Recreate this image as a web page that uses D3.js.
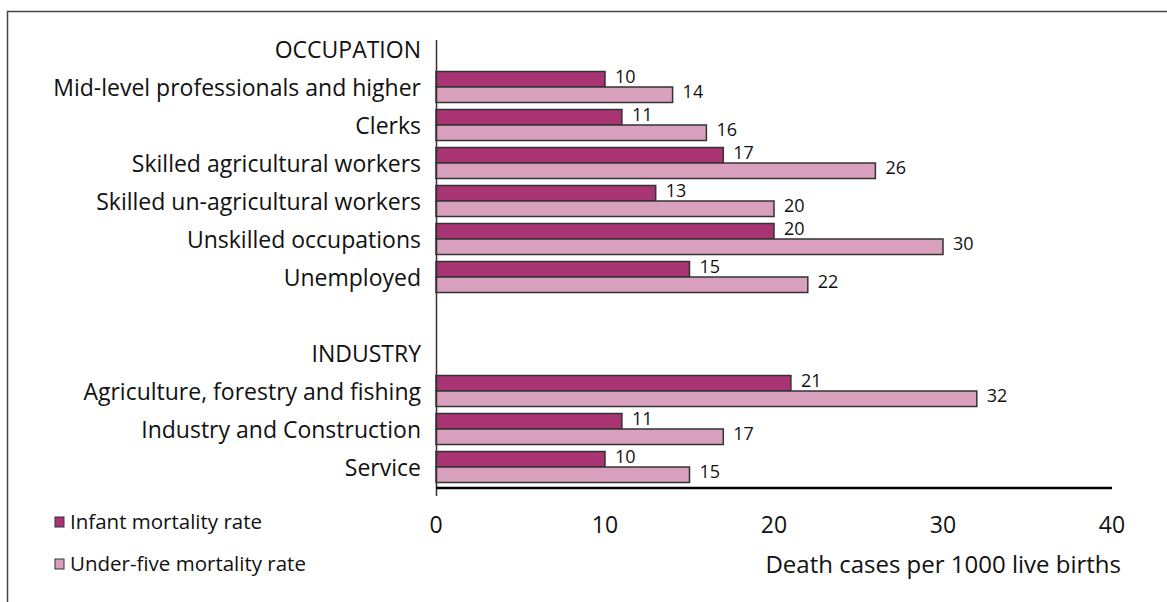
<!DOCTYPE html>
<html>
<head>
<meta charset="utf-8">
<script src="https://cdn.jsdelivr.net/npm/d3@7"></script>
<style>
  body { margin: 0; background: #fff; }
  svg { display: block; font-family: "Open Sans", sans-serif; }
</style>
</head>
<body>
<svg id="chart" width="1167" height="602"></svg>
<script>
// rows of the chart, top to bottom; headers and blank spacer have no values
var rows = [
  "OCCUPATION",
  "Mid-level professionals and higher",
  "Clerks",
  "Skilled agricultural workers",
  "Skilled un-agricultural workers",
  "Unskilled occupations",
  "Unemployed",
  "",
  "INDUSTRY",
  "Agriculture, forestry and fishing",
  "Industry and Construction",
  "Service"
];

var categories = [
  "Mid-level professionals and higher",
  "Clerks",
  "Skilled agricultural workers",
  "Skilled un-agricultural workers",
  "Unskilled occupations",
  "Unemployed",
  "Agriculture, forestry and fishing",
  "Industry and Construction",
  "Service"
];
var infantRate = [10, 11, 17, 13, 20, 15, 21, 11, 10];
var underFiveRate = [14, 16, 26, 20, 30, 22, 32, 17, 15];

var seriesNames = ["Infant mortality rate", "Under-five mortality rate"];
var seriesColors = ["#a83473", "#d8a0bc"];
var xTicks = [0, 10, 20, 30, 40];
var xTitle = "Death cases per 1000 live births";

var svg = d3.select('#chart');

// outer frame (right and bottom edges fall outside the picture)
svg.append('rect')
  .attr('x', 7.5).attr('y', 11.5)
  .attr('width', 1300).attr('height', 700)
  .attr('fill', 'none')
  .attr('stroke', '#444')
  .attr('stroke-width', 1.5);

var x = d3.scaleLinear().domain([0, 40]).range([436, 1112]);
var y = d3.scaleBand().domain(rows).range([30, 486]).paddingInner(0).paddingOuter(0);
var sub = d3.scaleBand().domain([0, 1]).range([0, 31]);
var barOffset = (y.bandwidth() - 31) / 2;

// row labels
svg.append('g').selectAll('text')
  .data(rows.filter(function (d) { return d !== ""; }))
  .join('text')
  .attr('x', 421)
  .attr('y', function (d) { return y(d) + y.bandwidth() / 2 + 1; })
  .attr('dy', '0.35em')
  .attr('text-anchor', 'end')
  .attr('font-size', 23)
  .attr('fill', '#111')
  .text(function (d) { return d; });

// bars
var data = [];
categories.forEach(function (c, i) {
  data.push({ cat: c, s: 0, v: infantRate[i] });
  data.push({ cat: c, s: 1, v: underFiveRate[i] });
});

var bars = svg.append('g');
bars.selectAll('rect')
  .data(data)
  .join('rect')
  .attr('x', x(0))
  .attr('y', function (d) { return y(d.cat) + barOffset + sub(d.s); })
  .attr('width', function (d) { return x(d.v) - x(0); })
  .attr('height', sub.bandwidth())
  .attr('fill', function (d) { return seriesColors[d.s]; })
  .attr('stroke', '#333')
  .attr('stroke-width', 1.5);

// value labels
bars.selectAll('text')
  .data(data)
  .join('text')
  .attr('x', function (d) { return x(d.v) + 10; })
  .attr('y', function (d) { return y(d.cat) + barOffset + sub(d.s) + sub.bandwidth() / 2 - 3; })
  .attr('dy', '0.35em')
  .attr('font-size', 18)
  .attr('fill', '#111')
  .text(function (d) { return d.v; });

// vertical axis line
svg.append('line')
  .attr('x1', 436.5).attr('x2', 436.5)
  .attr('y1', 40).attr('y2', 496)
  .attr('stroke', '#333').attr('stroke-width', 1.5);

// bottom axis line
svg.append('line')
  .attr('x1', x(0)).attr('x2', x(40))
  .attr('y1', 488).attr('y2', 488)
  .attr('stroke', '#000').attr('stroke-width', 2.5);

// tick labels
svg.append('g').selectAll('text')
  .data(xTicks)
  .join('text')
  .attr('x', function (d) { return x(d); })
  .attr('y', 525)
  .attr('dy', '0.35em')
  .attr('text-anchor', 'middle')
  .attr('font-size', 23)
  .attr('fill', '#111')
  .text(function (d) { return d; });

svg.append('text')
  .attr('x', 1121)
  .attr('y', 565)
  .attr('dy', '0.35em')
  .attr('text-anchor', 'end')
  .attr('font-size', 24)
  .attr('fill', '#111')
  .text(xTitle);

// legend
var legend = svg.append('g').selectAll('g')
  .data(seriesNames)
  .join('g')
  .attr('transform', function (d, i) { return 'translate(55,' + (522 + i * 42) + ')'; });

legend.append('rect')
  .attr('x', 0).attr('y', -5)
  .attr('width', 9).attr('height', 10)
  .attr('fill', function (d, i) { return seriesColors[i]; })
  .attr('stroke', '#333')
  .attr('stroke-width', 1);

legend.append('text')
  .attr('x', 15)
  .attr('y', 0)
  .attr('dy', '0.35em')
  .attr('font-size', 20.5)
  .attr('fill', '#111')
  .text(function (d) { return d; });
</script>
</body>
</html>
